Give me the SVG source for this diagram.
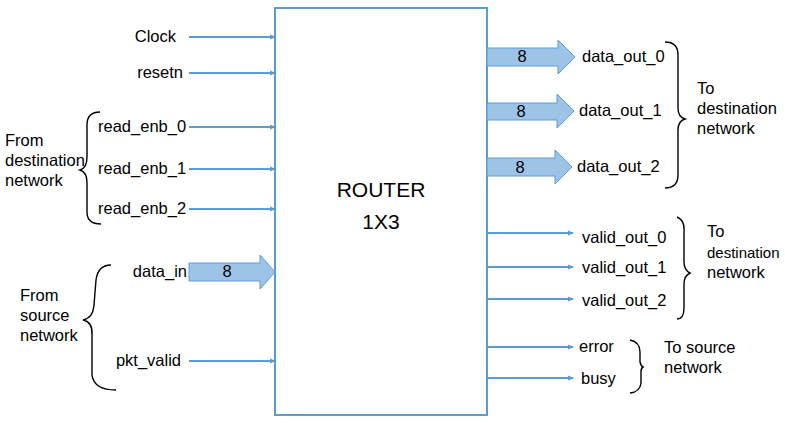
<svg xmlns="http://www.w3.org/2000/svg" width="785" height="423" viewBox="0 0 785 423">
<defs>
<marker id="ah" markerWidth="6" markerHeight="6" refX="5" refY="3" orient="auto" markerUnits="userSpaceOnUse">
<path d="M0,0.5 L6,3 L0,5.5 Z" fill="#5B9BD5"/>
</marker>
<style>
text{font-family:"Liberation Sans",Arial,sans-serif;font-size:16.5px;fill:#000}
.sig{stroke:#5B9BD5;stroke-width:2;fill:none;marker-end:url(#ah)}
.bus{fill:#9DC3E6;stroke:#5B9BD5;stroke-width:1}
.brace{fill:none;stroke:#000;stroke-width:1.4}
.r{text-anchor:end}
.c{text-anchor:middle}
.sm{font-size:15px}
</style>
</defs>
<rect width="785" height="423" fill="#fff"/>
<g id="router">
<rect x="275" y="8" width="212" height="407" fill="#fff" stroke="#5B9BD5" stroke-width="2"/>
<text x="381" y="197" class="c" style="font-size:21px">ROUTER</text>
<text x="381" y="229" class="c" style="font-size:21px">1X3</text>
</g>
<g id="connectors">
<line class="sig" x1="189" y1="37" x2="275" y2="37"/>
<line class="sig" x1="189" y1="73" x2="275" y2="73"/>
<line class="sig" x1="189" y1="127" x2="275" y2="127"/>
<line class="sig" x1="189" y1="169" x2="275" y2="169"/>
<line class="sig" x1="189" y1="209" x2="275" y2="209"/>
<line class="sig" x1="189" y1="361" x2="275" y2="361"/>
<path class="bus" d="M189,263 L260,263 L260,255 L275,272 L260,289 L260,281 L189,281 Z"/>
<path class="bus" d="M487,48 L558,48 L558,40 L575,57 L558,74 L558,66 L487,66 Z"/>
<path class="bus" d="M487,103 L557,103 L557,94 L574,111 L557,128 L557,120 L487,120 Z"/>
<path class="bus" d="M487,158 L555,158 L555,150 L572,167 L555,184 L555,176 L487,176 Z"/>
<line class="sig" x1="487" y1="233" x2="573" y2="233"/>
<line class="sig" x1="487" y1="267" x2="573" y2="267"/>
<line class="sig" x1="487" y1="299" x2="573" y2="299"/>
<line class="sig" x1="487" y1="347" x2="573" y2="347"/>
<line class="sig" x1="487" y1="378" x2="573" y2="378"/>
</g>
<g id="inputs">
<text x="176" y="42" class="r">Clock</text>
<text x="183" y="78" class="r">resetn</text>
<text x="98" y="132">read_enb_0</text>
<text x="98" y="174">read_enb_1</text>
<text x="98" y="214">read_enb_2</text>
<text x="187" y="277" class="r">data_in</text>
<text x="227" y="277" class="c">8</text>
<text x="181" y="366" class="r">pkt_valid</text>
</g>
<g id="outputs">
<text x="522" y="62" class="c">8</text>
<text x="521" y="117" class="c">8</text>
<text x="520" y="173" class="c">8</text>
<text x="582" y="62">data_out_0</text>
<text x="579" y="116">data_out_1</text>
<text x="577" y="172">data_out_2</text>
<text x="582" y="243">valid_out_0</text>
<text x="582" y="273">valid_out_1</text>
<text x="582" y="306">valid_out_2</text>
<text x="579" y="352">error</text>
<text x="581" y="384">busy</text>
</g>
<g id="braces">
<path class="brace" d="M100,112 Q87,112 87,125 L87,157 Q87,168 80,170 Q87,172 87,183 L87,212 Q87,224 101,224"/>
<path class="brace" d="M111,265 Q98,265 96,280 L94,305 Q93,318 83,320 Q93,322 92,335 L92,375 Q94,390 116,390"/>
<path class="brace" d="M665,42 Q678,42 678,55 L678,108 Q678,117 685,119 Q678,121 678,130 L678,175 Q678,188 665,188"/>
<path class="brace" d="M677,217 Q685,220 684,232 L684,262 Q684,270 690,273 Q684,276 684,284 L684,308 Q684,319 677,319"/>
<path class="brace" d="M630,340 Q640,342 640,352 L640,362 Q641,366 643,367 Q641,368 641,372 L641,383 Q640,392 630,393"/>
</g>
<g id="notes">
<text x="5" y="146">From</text>
<text x="5" y="166">destination</text>
<text x="5" y="186">network</text>
<text x="20" y="301">From</text>
<text x="20" y="321">source</text>
<text x="20" y="341">network</text>
<text x="697" y="94">To</text>
<text x="697" y="114">destination</text>
<text x="697" y="134">network</text>
<text x="707" y="237">To</text>
<text x="707" y="258" class="sm">destination</text>
<text x="707" y="278">network</text>
<text x="664" y="353">To source</text>
<text x="664" y="373">network</text>
</g>
</svg>
